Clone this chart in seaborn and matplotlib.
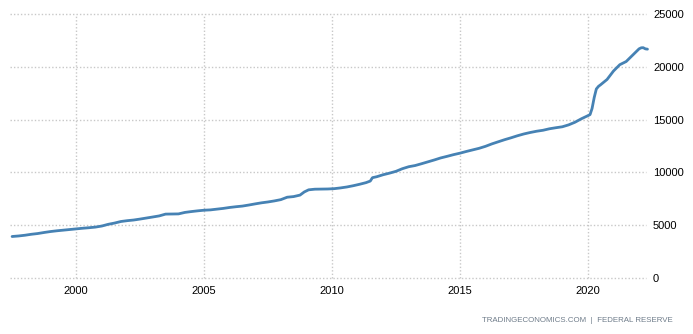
import matplotlib
matplotlib.use("Agg")
import matplotlib.pyplot as plt
import matplotlib.dates as mdates
import seaborn as sns
import pandas as pd

# US M2 money stock, USD billions
dates = [
    "1997-07", "1997-10", "1998-01", "1998-04", "1998-07", "1998-10",
    "1999-01", "1999-04", "1999-07", "1999-10", "2000-01", "2000-04",
    "2000-07", "2000-10", "2001-01", "2001-04", "2001-07", "2001-10",
    "2002-01", "2002-04", "2002-07", "2002-10", "2003-01", "2003-04",
    "2003-07", "2003-10", "2004-01", "2004-04", "2004-07", "2004-10",
    "2005-01", "2005-04", "2005-07", "2005-10", "2006-01", "2006-04",
    "2006-07", "2006-10", "2007-01", "2007-04", "2007-07", "2007-10",
    "2008-01", "2008-04", "2008-07", "2008-10", "2008-12", "2009-02",
    "2009-05", "2009-08", "2009-11", "2010-02", "2010-05", "2010-08",
    "2010-11", "2011-02", "2011-05", "2011-07", "2011-08", "2011-10",
    "2012-01", "2012-04", "2012-07", "2012-10", "2013-01", "2013-04",
    "2013-07", "2013-10", "2014-01", "2014-04", "2014-07", "2014-10",
    "2015-01", "2015-04", "2015-07", "2015-10", "2016-01", "2016-04",
    "2016-07", "2016-10", "2017-01", "2017-04", "2017-07", "2017-10",
    "2018-01", "2018-04", "2018-07", "2018-10", "2019-01", "2019-04",
    "2019-07", "2019-10", "2020-01", "2020-02", "2020-03", "2020-04",
    "2020-05", "2020-06", "2020-07", "2020-10", "2021-01", "2021-04",
    "2021-07", "2021-10", "2022-01", "2022-02", "2022-03", "2022-04",
    "2022-05",
]
m2 = [
    3930, 3980, 4050, 4140, 4210, 4310,
    4400, 4470, 4530, 4590, 4650, 4710,
    4760, 4820, 4920, 5080, 5200, 5350,
    5430, 5490, 5580, 5680, 5780, 5880,
    6050, 6060, 6070, 6210, 6290, 6360,
    6420, 6450, 6520, 6590, 6680, 6750,
    6810, 6910, 7020, 7120, 7200, 7300,
    7420, 7650, 7710, 7850, 8150, 8350,
    8410, 8420, 8430, 8460, 8530, 8620,
    8740, 8880, 9030, 9180, 9500, 9590,
    9780, 9930, 10100, 10350, 10540, 10650,
    10820, 11000, 11180, 11370, 11520, 11680,
    11820, 11980, 12130, 12280, 12470, 12700,
    12900, 13100, 13280, 13470, 13640, 13780,
    13900, 13990, 14130, 14230, 14320, 14500,
    14750, 15080, 15370, 15470, 16050, 17100,
    17900, 18150, 18300, 18800, 19600, 20200,
    20500, 21100, 21700, 21800, 21810, 21700,
    21670,
]
year_ticks = [2000, 2005, 2010, 2015, 2020]
value_ticks = [0, 5000, 10000, 15000, 20000, 25000]

df = pd.DataFrame({"date": pd.to_datetime(dates), "m2": m2})

sns.set_theme(style="white")
plt.rcParams["font.family"] = ["Liberation Sans", "DejaVu Sans"]

W, H = 693, 334
fig = plt.figure(figsize=(W / 100, H / 100), dpi=100)
ax = fig.add_axes([10 / W, (H - 278) / H, (646 - 10) / W, (278 - 14) / H])

sns.lineplot(data=df, x="date", y="m2", ax=ax, color="#4682B4",
             linewidth=2.0, clip_on=False, zorder=3)

ax.set_xlim(pd.Timestamp("1997-06-01"), pd.Timestamp("2022-04-10"))
ax.set_ylim(0, 25000)
ax.set_xticks([pd.Timestamp(f"{y}-01-01") for y in year_ticks])
ax.xaxis.set_major_formatter(mdates.DateFormatter("%Y"))
ax.set_yticks(value_ticks)
ax.yaxis.tick_right()
ax.set_xlabel("")
ax.set_ylabel("")

for s in ax.spines.values():
    s.set_visible(False)

ax.grid(True, color="#c8c8c8", linestyle=(0, (1, 1.5)), linewidth=1)
for gl in ax.get_xgridlines() + ax.get_ygridlines():
    gl.set_clip_on(False)
ax.tick_params(axis="both", length=0, labelsize=8, colors="#000000")
ax.tick_params(axis="y", pad=5)
ax.tick_params(axis="x", pad=6)

fig.text(673 / W, 1 - 320 / H, "TRADINGECONOMICS.COM  |  FEDERAL RESERVE",
         ha="right", va="center", fontsize=5.7, color="#6f7c8a")

fig.savefig("out.png", dpi=100, facecolor="white")
